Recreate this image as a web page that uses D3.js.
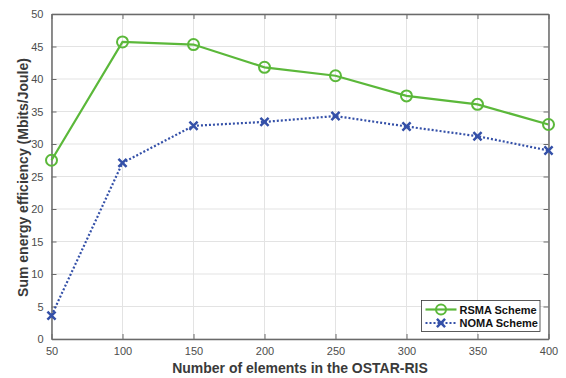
<!DOCTYPE html>
<meta charset="utf-8">
<style>
  body { margin: 0; background: #fff; }
  text { font-family: "Liberation Sans", Arial, sans-serif; }
  .tick text { fill: #4d4d4d; font-size: 11px; }
</style>
<body>
<script src="https://cdnjs.cloudflare.com/ajax/libs/d3/7.8.5/d3.min.js"></script>
<script>
// chart data
var elements = [50, 100, 150, 200, 250, 300, 350, 400];
var rsma = [27.5, 45.7, 45.3, 41.8, 40.5, 37.4, 36.1, 33.0];
var noma = [3.6, 27.1, 32.8, 33.4, 34.3, 32.7, 31.2, 29.0];
var xTicks = [50, 100, 150, 200, 250, 300, 350, 400];
var yTicks = [0, 5, 10, 15, 20, 25, 30, 35, 40, 45, 50];
var seriesNames = ["RSMA Scheme", "NOMA Scheme"];

var width = 566, height = 378;
var margin = {top: 14, right: 17.5, bottom: 39, left: 51.5};
var w = width - margin.left - margin.right,
    h = height - margin.top - margin.bottom;

var green = "#5bb83a", blue = "#3450a8", axisCol = "#6a6a6a";

var svg = d3.select("body").append("svg")
    .attr("width", width)
    .attr("height", height);

var g = svg.append("g").attr("transform", "translate(" + margin.left + "," + margin.top + ")");

var x = d3.scaleLinear().domain([50, 400]).range([0, w]);
var y = d3.scaleLinear().domain([0, 50]).range([h, 0]);

// grid
g.append("g").selectAll("line").data(xTicks).enter().append("line")
    .attr("x1", d => x(d)).attr("x2", d => x(d))
    .attr("y1", 0).attr("y2", h)
    .style("stroke", "#e3e3e3").style("stroke-width", 1);
g.append("g").selectAll("line").data(yTicks).enter().append("line")
    .attr("x1", 0).attr("x2", w)
    .attr("y1", d => y(d)).attr("y2", d => y(d))
    .style("stroke", "#e3e3e3").style("stroke-width", 1);

// axes (ticks inward, box on)
var xAxis = g.append("g").attr("transform", "translate(0," + h + ")")
    .call(d3.axisBottom(x).tickValues(xTicks).tickSizeInner(-5).tickSizeOuter(0).tickPadding(8));
var xTop = g.append("g")
    .call(d3.axisTop(x).tickValues(xTicks).tickSizeInner(-5).tickSizeOuter(0).tickFormat(""));
var yAxis = g.append("g")
    .call(d3.axisLeft(y).tickValues(yTicks).tickSizeInner(-5).tickSizeOuter(0).tickPadding(8));
var yRight = g.append("g").attr("transform", "translate(" + w + ",0)")
    .call(d3.axisRight(y).tickValues(yTicks).tickSizeInner(-5).tickSizeOuter(0).tickFormat(""));

[xAxis, xTop, yAxis, yRight].forEach(function(a) {
  a.select(".domain").style("stroke", axisCol).style("stroke-width", 1.5);
  a.selectAll(".tick line").style("stroke", axisCol).style("stroke-width", 1);
  a.selectAll(".tick text").style("font-family", "'Liberation Sans', Arial, sans-serif");
});

// lines
var line = d3.line().x((d, i) => x(elements[i])).y(d => y(d));

g.append("path").datum(noma)
    .attr("d", line)
    .style("fill", "none").style("stroke", blue)
    .style("stroke-width", 2.2).style("stroke-dasharray", "2,2");

g.append("path").datum(rsma)
    .attr("d", line)
    .style("fill", "none").style("stroke", green)
    .style("stroke-width", 2.2);

// markers
g.append("g").selectAll("circle").data(rsma).enter().append("circle")
    .attr("cx", (d, i) => x(elements[i])).attr("cy", d => y(d))
    .attr("r", 5.5)
    .style("fill", "none").style("stroke", green).style("stroke-width", 2);

var cross = d3.symbol().type(d3.symbolX).size(45);
g.append("g").selectAll("path").data(noma).enter().append("path")
    .attr("d", cross)
    .attr("transform", (d, i) => "translate(" + x(elements[i]) + "," + y(d) + ")")
    .style("fill", "none").style("stroke", blue).style("stroke-width", 2.5);

// legend
var lg = svg.append("g").attr("transform", "translate(421.5,300.5)");
lg.append("rect").attr("width", 118.5).attr("height", 31)
    .style("fill", "#fff").style("stroke", "#333").style("stroke-width", 0.8);

var legendItems = [
  {name: seriesNames[0], color: green, dash: null, marker: "circle"},
  {name: seriesNames[1], color: blue, dash: "2,2", marker: "x"}
];
legendItems.forEach(function(it, i) {
  var yy = 9 + i * 13.5;
  lg.append("line").attr("x1", 4).attr("x2", 35).attr("y1", yy).attr("y2", yy)
      .style("stroke", it.color).style("stroke-width", 2.2)
      .style("stroke-dasharray", it.dash);
  if (it.marker == "circle") {
    lg.append("circle").attr("cx", 19.5).attr("cy", yy).attr("r", 5)
        .style("fill", "none").style("stroke", it.color).style("stroke-width", 2);
  } else {
    lg.append("path").attr("d", cross).attr("transform", "translate(19.5," + yy + ")")
        .style("fill", "none").style("stroke", it.color).style("stroke-width", 2.5);
  }
  lg.append("text").attr("x", 38).attr("y", yy + 4)
      .style("font-size", "11px").style("font-weight", "bold").style("fill", "#111")
      .text(it.name);
});

// axis labels
svg.append("text")
    .attr("x", margin.left + w / 2).attr("y", 373)
    .attr("text-anchor", "middle")
    .style("font-size", "14px").style("font-weight", "bold").style("fill", "#3a3a3a")
    .text("Number of elements in the OSTAR-RIS");

svg.append("text")
    .attr("transform", "translate(28," + (margin.top + h / 2 + 1) + ") rotate(-90)")
    .attr("text-anchor", "middle")
    .style("font-size", "14px").style("font-weight", "bold").style("fill", "#3a3a3a")
    .text("Sum energy efficiency (Mbits/Joule)");
</script>
</body>
